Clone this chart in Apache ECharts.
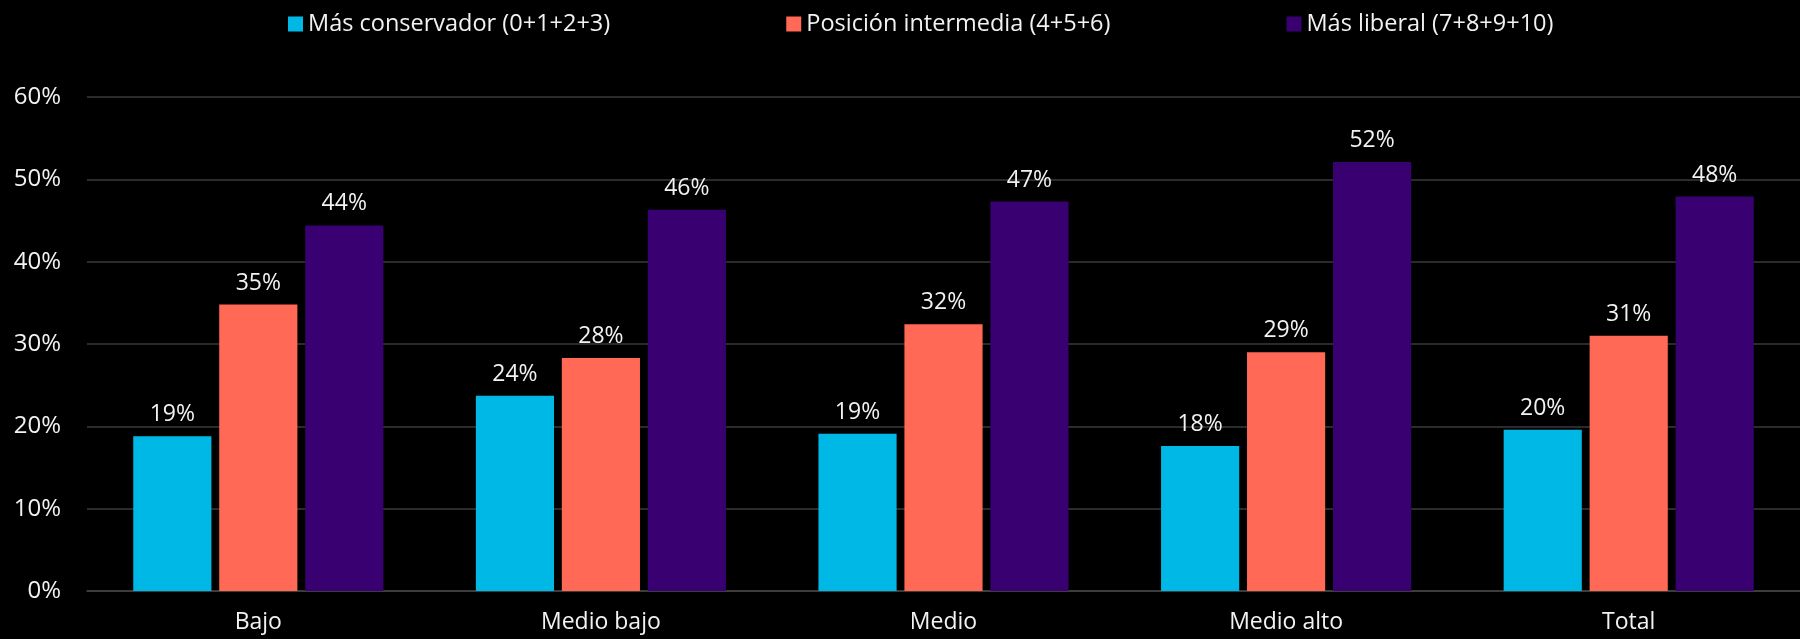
<!DOCTYPE html>
<html>
<head>
<meta charset="utf-8">
<script src="https://cdn.jsdelivr.net/npm/echarts@6/dist/echarts.min.js"></script>
<style>
html,body{margin:0;padding:0;background:#000;}
#chart{width:1800px;height:639px;}
</style>
</head>
<body>
<div id="chart"></div>
<script>
const categories = ['Bajo', 'Medio bajo', 'Medio', 'Medio alto', 'Total'];
const seriesNames = ['Más conservador (0+1+2+3)', 'Posición intermedia (4+5+6)', 'Más liberal (7+8+9+10)'];
const conservador = [18.8, 23.7, 19.1, 17.6, 19.6];
const intermedia = [34.8, 28.3, 32.4, 29.0, 31.0];
const liberal = [44.4, 46.3, 47.3, 52.1, 47.9];
const yTicks = [0, 10, 20, 30, 40, 50, 60];
const colors = ['#00B8E6', '#FF6955', '#380070'];

const font = 'Open Sans';
const chart = echarts.init(document.getElementById('chart'));
const mk = (name, data, color) => ({
  name, type: 'bar', data,
  itemStyle: { color },
  barGap: '10%', barCategoryGap: '27%',
  label: {
    show: true, position: 'top', distance: 10,
    color: '#f2f2f2', fontFamily: font, fontSize: 23,
    formatter: p => Math.round(p.value) + '%'
  }
});
chart.setOption({
  backgroundColor: '#000',
  animation: false,
  legend: {
    top: 7, left: 283, itemGap: 176,
    itemWidth: 15, itemHeight: 15, icon: 'rect',
    textStyle: { color: '#f2f2f2', fontFamily: font, fontSize: 23.5 },
    data: seriesNames
  },
  grid: { left: 87, right: 0, top: 97, bottom: 48 },
  xAxis: {
    type: 'category', data: categories,
    axisLine: { show: true, lineStyle: { color: '#444', width: 1.5 } },
    axisTick: { show: false },
    axisLabel: { color: '#f2f2f2', fontFamily: font, fontSize: 23, margin: 20 }
  },
  yAxis: {
    type: 'value', min: yTicks[0], max: yTicks[yTicks.length - 1], interval: 10,
    axisLine: { show: false }, axisTick: { show: false },
    splitLine: { lineStyle: { color: '#3a3a3a', width: 1.5 } },
    axisLabel: { color: '#f2f2f2', fontFamily: font, fontSize: 24, margin: 26, formatter: v => v + '%' }
  },
  series: [
    mk(seriesNames[0], conservador, colors[0]),
    mk(seriesNames[1], intermedia, colors[1]),
    mk(seriesNames[2], liberal, colors[2])
  ]
});
</script>
</body>
</html>
